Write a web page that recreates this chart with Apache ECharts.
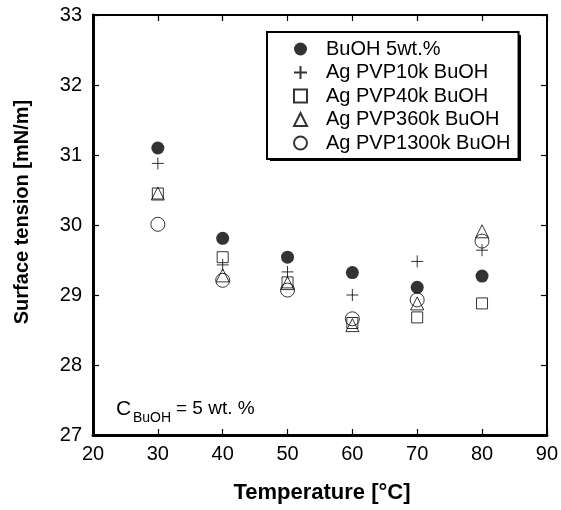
<!DOCTYPE html>
<html>
<head>
<meta charset="utf-8">
<script src="https://cdn.jsdelivr.net/npm/echarts@6/dist/echarts.min.js"></script>
<style>
  html, body { margin: 0; padding: 0; background: #fff; }
  #chart { width: 561px; height: 510px; }
</style>
</head>
<body>
<div id="chart"></div>
<script>
// temperature [°C]
var temps = [30, 40, 50, 60, 70, 80];

// surface tension [mN/m]
var buoh5 = [31.10, 29.81, 29.54, 29.32, 29.11, 29.27];
var pvp10k = [30.88, 29.43, 29.33, 29.00, 29.48, 29.64];
var pvp40k = [30.45, 29.54, 29.18, 28.60, 28.68, 28.88];
var pvp360k = [30.45, 29.28, 29.17, 28.57, 28.88, 29.91];
var pvp1300k = [30.01, 29.21, 29.07, 28.66, 28.93, 29.77];

var seriesNames = ['BuOH 5wt.%', 'Ag PVP10k BuOH', 'Ag PVP40k BuOH', 'Ag PVP360k BuOH', 'Ag PVP1300k BuOH'];

var FONT = 'Liberation Sans, Arial, sans-serif';

function pairs(ys) {
  return temps.map(function (t, i) { return [t, ys[i]]; });
}

var chart = echarts.init(document.getElementById('chart'));

var hollow = { color: 'transparent', borderColor: '#000', borderWidth: 1 };

chart.setOption({
  animation: false,
  grid: { left: 93, right: 12, top: 15, bottom: 75 },
  legend: {
    orient: 'vertical',
    left: 267,
    top: 32,
    padding: [7, 8, 6, 26],
    itemWidth: 13,
    itemHeight: 13,
    itemGap: 3.5,
    backgroundColor: '#fff',
    borderColor: '#000',
    borderWidth: 2,
    borderRadius: 0,
    z: 5,
    textStyle: { fontFamily: FONT, fontSize: 20, color: '#000', padding: [0, 0, 0, 14] },
    data: seriesNames
  },
  xAxis: [{
    type: 'value', min: 20, max: 90, interval: 10,
    axisLine: { lineStyle: { color: '#000', width: 3 } },
    axisTick: { inside: true, length: 6, lineStyle: { color: '#000', width: 1.2 } },
    axisLabel: { fontFamily: FONT, fontSize: 20, color: '#000', margin: 9 },
    splitLine: { show: false }
  }, {
    type: 'value', min: 20, max: 90, interval: 10, position: 'top',
    axisLine: { lineStyle: { color: '#000', width: 2 } },
    axisTick: { inside: true, length: 6, lineStyle: { color: '#000', width: 1.2 } },
    axisLabel: { show: false },
    splitLine: { show: false }
  }],
  yAxis: [{
    type: 'value', min: 27, max: 33, interval: 1,
    axisLine: { show: true, lineStyle: { color: '#000', width: 3 } },
    axisTick: { show: true, inside: true, length: 6, lineStyle: { color: '#000', width: 1.2 } },
    axisLabel: { fontFamily: FONT, fontSize: 20, color: '#000', margin: 11 },
    splitLine: { show: false }
  }, {
    type: 'value', min: 27, max: 33, interval: 1, position: 'right',
    axisLine: { show: true, lineStyle: { color: '#000', width: 2 } },
    axisTick: { show: true, inside: true, length: 6, lineStyle: { color: '#000', width: 1.2 } },
    axisLabel: { show: false },
    splitLine: { show: false }
  }],
  graphic: [
    {
      // legend drop shadow
      type: 'rect', z: 4, silent: true,
      shape: { x: 270, y: 35, width: 251, height: 126 },
      style: { fill: '#000' }
    },
    {
      type: 'text', x: 322, y: 493,
      style: { text: 'Temperature [°C]', font: 'bold 22px ' + FONT, fill: '#000', align: 'center', verticalAlign: 'middle' }
    },
    {
      type: 'text', x: 22, y: 212, rotation: Math.PI / 2,
      style: { text: 'Surface tension [mN/m]', font: 'bold 20px ' + FONT, fill: '#000', align: 'center', verticalAlign: 'middle' }
    },
    {
      type: 'text', x: 116, y: 399,
      style: { text: 'C', font: '21px ' + FONT, fill: '#000', align: 'left', verticalAlign: 'alphabetic' }
    },
    {
      type: 'text', x: 133, y: 411,
      style: { text: 'BuOH', font: '14px ' + FONT, fill: '#000', align: 'left', verticalAlign: 'alphabetic' }
    },
    {
      type: 'text', x: 176, y: 399,
      style: { text: '= 5 wt. %', font: '19px ' + FONT, fill: '#000', align: 'left', verticalAlign: 'alphabetic' }
    }
  ],
  series: [{
    name: seriesNames[0], type: 'scatter', symbol: 'circle', symbolSize: 13,
    itemStyle: { color: '#000' },
    data: pairs(buoh5)
  }, {
    name: seriesNames[1], type: 'scatter', symbol: 'path://M0,6L12,6M6,0L6,12', symbolSize: 12,
    itemStyle: hollow,
    data: pairs(pvp10k)
  }, {
    name: seriesNames[2], type: 'scatter', symbol: 'rect', symbolSize: 11,
    itemStyle: hollow,
    data: pairs(pvp40k)
  }, {
    name: seriesNames[3], type: 'scatter', symbol: 'triangle', symbolSize: 13,
    itemStyle: hollow,
    data: pairs(pvp360k)
  }, {
    name: seriesNames[4], type: 'scatter', symbol: 'circle', symbolSize: 14,
    itemStyle: hollow,
    data: pairs(pvp1300k)
  }]
});
</script>
</body>
</html>
